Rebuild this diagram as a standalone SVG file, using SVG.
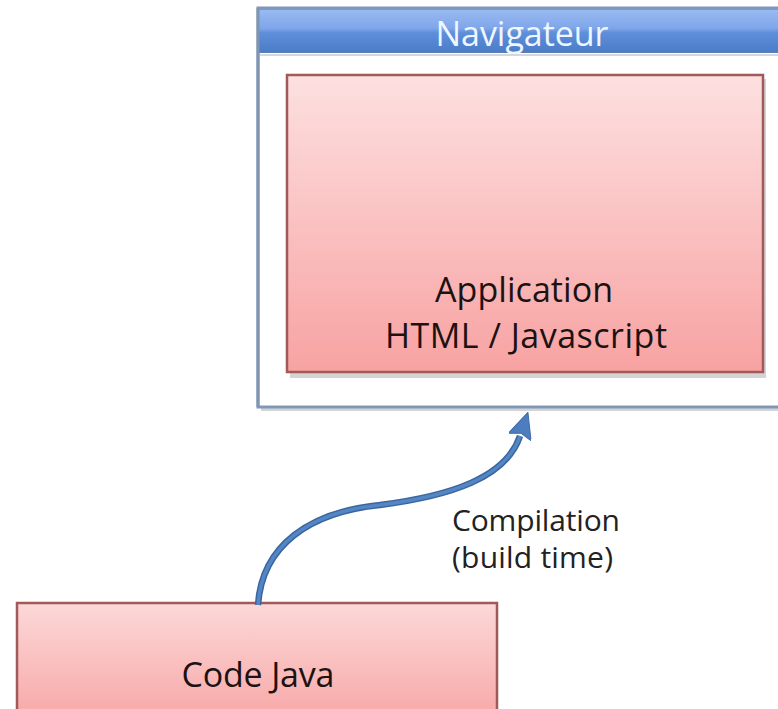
<svg xmlns="http://www.w3.org/2000/svg" width="778" height="709" viewBox="0 0 778 709">
  <defs>
    <linearGradient id="hdr" x1="0" y1="0" x2="0" y2="1">
      <stop offset="0" stop-color="#9cbcf2"/>
      <stop offset="0.45" stop-color="#7fa6ea"/>
      <stop offset="0.55" stop-color="#5f8fda"/>
      <stop offset="1" stop-color="#4a7bc6"/>
    </linearGradient>
    <linearGradient id="pink" x1="0" y1="0" x2="0" y2="1">
      <stop offset="0" stop-color="#fde0e0"/>
      <stop offset="1" stop-color="#f8a2a2"/>
    </linearGradient>
    <linearGradient id="pink2" x1="0" y1="0" x2="0" y2="1">
      <stop offset="0" stop-color="#fcd8d8"/>
      <stop offset="1" stop-color="#f8a6a6"/>
    </linearGradient>
    <marker id="head" viewBox="0 0 26 24" refX="1" refY="12" markerWidth="26" markerHeight="24" orient="auto" markerUnits="userSpaceOnUse">
      <path d="M0,0 L26,12 L0,24 L4,12 z" fill="#4d7dbf" stroke="#3f6aa6" stroke-width="1"/>
    </marker>
  </defs>
  <style>
    .lbl { font-family: "Open Sans", "Liberation Sans", sans-serif; fill: #1c1212; text-anchor: middle; font-size: 34px; }
    .note { font-family: "Open Sans", "Liberation Sans", sans-serif; fill: #222222; font-size: 30px; }
    .box { stroke: #a05a5a; stroke-width: 2.5; }
    .shadow { fill: #a0a0a0; opacity: 0.45; }
    .edge { fill: none; stroke-linecap: butt; }
  </style>
  <rect width="778" height="709" fill="#ffffff"/>

  <!-- browser frame -->
  <g id="navigateur">
    <rect class="shadow" x="261" y="12" width="530" height="399"/>
    <rect x="258" y="8" width="530" height="399" fill="#ffffff" stroke="#7f98b8" stroke-width="3"/>
    <rect x="258" y="8" width="530" height="45" fill="url(#hdr)"/>
    <line x1="258" y1="9" x2="788" y2="9" stroke="#7f98bd" stroke-width="2"/>
    <line x1="258" y1="52" x2="788" y2="52" stroke="#5a7cae" stroke-width="2"/>
    <line x1="260" y1="55" x2="788" y2="55" stroke="#d4d8de" stroke-width="2"/>
    <line x1="258" y1="8" x2="258" y2="407" stroke="#7f95b0" stroke-width="3"/>
    <text x="522" y="46" font-family="'Open Sans', 'Liberation Sans', sans-serif" font-size="34" fill="#eef6ff" text-anchor="middle" textLength="173">Navigateur</text>
  </g>

  <!-- application inside the browser -->
  <g id="application">
    <rect class="shadow" x="290" y="79" width="476" height="299"/>
    <rect class="box" x="287" y="75" width="476" height="297" fill="url(#pink)"/>
    <text class="lbl" x="524" y="302" textLength="178">Application</text>
    <text class="lbl" x="526" y="348" textLength="282">HTML / Javascript</text>
  </g>

  <!-- source code -->
  <g id="code-java">
    <rect class="box" x="17" y="603" width="480" height="120" fill="url(#pink2)"/>
    <text class="lbl" x="258" y="687" textLength="153">Code Java</text>
  </g>

  <!-- build step -->
  <g id="connectors">
    <path class="edge" d="M258,605 C262,545 310,512 380,505 C450,496 506,478 520,436" stroke="#3a669f" stroke-width="6.5"/>
    <path class="edge" d="M258,605 C262,545 310,512 380,505 C450,496 506,478 520,436" stroke="#5486c6" stroke-width="3.5" marker-end="url(#head)"/>
    <text class="note" x="452" y="531" textLength="168">Compilation</text>
    <text class="note" x="452" y="568" textLength="161">(build time)</text>
  </g>
</svg>
